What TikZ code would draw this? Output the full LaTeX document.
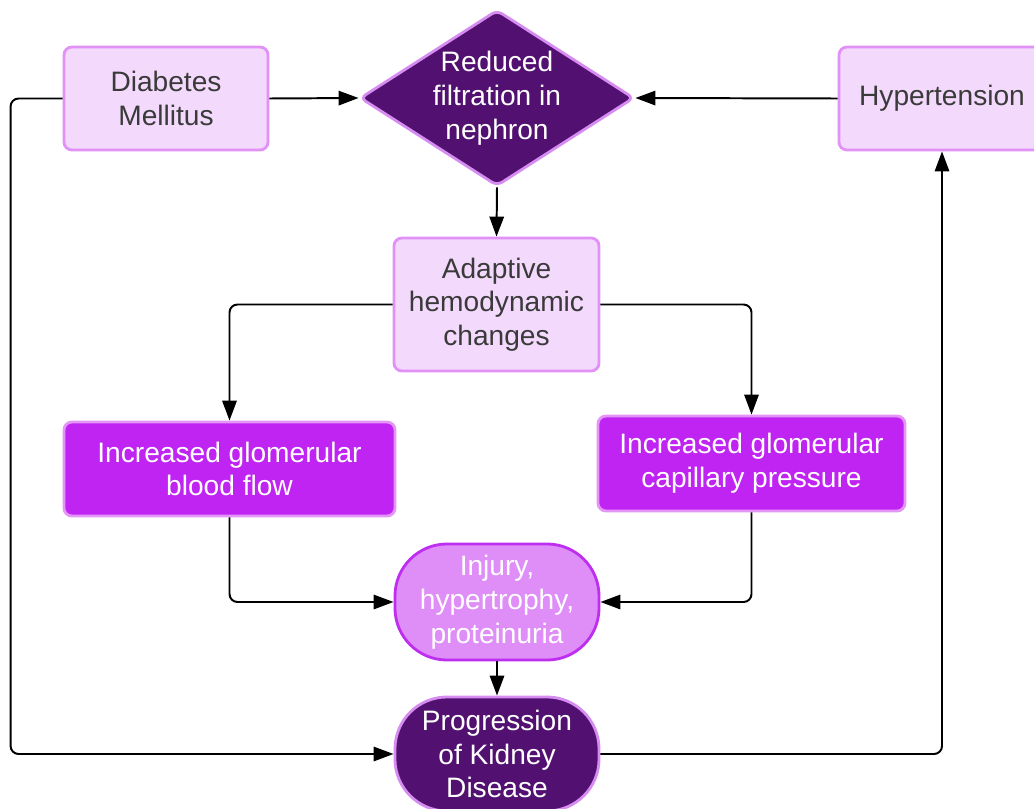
\documentclass[tikz,border=0pt]{standalone}
\usepackage{fontspec}
\setmainfont{Liberation Sans}
\usetikzlibrary{arrows.meta,shapes.geometric}
\definecolor{palefill}{HTML}{F3D9FC}
\definecolor{paleline}{HTML}{E292F7}
\definecolor{darkfill}{HTML}{521170}
\definecolor{darkline}{HTML}{D68CF0}
\definecolor{midfill}{HTML}{C024F2}
\definecolor{midline}{HTML}{E496F7}
\definecolor{pinkfill}{HTML}{DF8EF8}
\definecolor{pinkline}{HTML}{BE2EF0}
\definecolor{greytext}{HTML}{3A3A3A}

\begin{document}
\begin{tikzpicture}[x=0.025cm,y=-0.025cm,
    every node/.style={font=\fontsize{20}{24}\selectfont, align=center, inner sep=0pt},
    palebox/.style={draw=paleline, fill=palefill, line width=2pt, rounded corners=0.2cm, text=greytext},
    midbox/.style={draw=midline, fill=midfill, line width=2pt, rounded corners=0.2cm, text=white},
    pill/.style={line width=2pt, rounded corners=1.3cm, minimum width=5.1cm},
    arr/.style={line width=1.4pt, rounded corners=0.2cm, -{Triangle[length=0.5cm,width=0.36cm]}}]
        \useasboundingbox (0,0) rectangle (1034,809);
        %top row
        \node[palebox, minimum width=5.1cm, minimum height=2.575cm] (dm) at (166,98.5) {Diabetes\\Mellitus};
        \node[diamond, draw=darkline, fill=darkfill, line width=2pt, rounded corners=0.15cm,
              minimum width=6.85cm, minimum height=4.4cm] (filt) at (497,98) {};
        \node[text=white] at (filt) {Reduced\\filtration in\\nephron};
        \node[palebox, minimum width=5.15cm, minimum height=2.575cm] (ht) at (942,98.5) {Hypertension};
        %middle
        \node[palebox, minimum width=5.125cm, minimum height=3.325cm] (adapt) at (496.5,304.5) {Adaptive\\hemodynamic\\changes};
        \node[midbox, minimum width=8.275cm, minimum height=2.35cm] (bflow) at (229.5,469) {Increased glomerular\\blood flow};
        \node[midbox, minimum width=7.675cm, minimum height=2.375cm] (cap) at (751.5,463.5) {Increased glomerular\\capillary pressure};
        %bottom
        \node[pill, draw=pinkline, fill=pinkfill, text=white, minimum height=2.9cm] (inj) at (497,602) {Injury,\\hypertrophy,\\proteinuria};
        \node[pill, draw=darkline, fill=darkfill, text=white, minimum height=2.85cm] (prog) at (497,754) {Progression\\of Kidney\\Disease};
        %connectors
        \draw[arr] (dm.east) -- (filt.west);
        \draw[arr] (ht.west) -- (filt.east);
        \draw[arr] (filt.south) -- (adapt.north);
        \draw[arr] (adapt.west) -| (bflow.north);
        \draw[arr] (adapt.east) -| (cap.north);
        \draw[arr] (bflow.south) |- (inj.west);
        \draw[arr] (cap.south) |- (inj.east);
        \draw[arr] (inj.south) -- (prog.north);
        \draw[arr] (dm.west) -- ++(-52,0) |- (prog.west);
        \draw[arr] (prog.east) -| (ht.south);
\end{tikzpicture}
\end{document}
